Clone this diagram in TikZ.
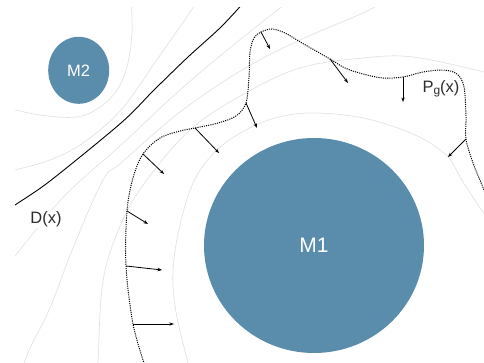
\documentclass[tikz,border=0pt]{standalone}
\usepackage{fontspec}
\setmainfont{Liberation Sans}
\usetikzlibrary{arrows.meta,shapes.geometric}
\definecolor{massblue}{RGB}{90,140,172}
\definecolor{fieldgray}{RGB}{226,226,226}
\definecolor{inkgray}{RGB}{45,45,45}
\begin{document}
\begin{tikzpicture}[x=1pt,y=-1pt,
  fieldline/.style={draw=fieldgray, line width=0.7pt},
  divider/.style={draw=black, line width=0.9pt},
  front/.style={draw=black, line width=1pt, dash pattern=on 1.1pt off 1.1pt},
  push/.style={draw=black, line width=0.8pt, -{Stealth[length=4.6pt,width=3.4pt]}},
  mass/.style={ellipse, fill=massblue, draw=none, text=white, inner sep=0pt},
  tag/.style={text=inkgray, inner sep=1pt}]

\useasboundingbox (0,0) rectangle (484,363);
\clip (0,0) rectangle (484,363);

% equipotential lines
\begin{scope}
  \clip (15,8) rectangle (484,363);
  % closed lines round M2
  \draw[fieldline] plot[smooth, tension=0.6] coordinates
    {(131,-2) (132,33) (127,67) (117,90) (100,107) (77,117) (40,115) (8,108)};
  \draw[fieldline] plot[smooth, tension=0.6] coordinates
    {(199,-2) (193,8) (156,61) (121,110) (83,143) (50,160) (15,170) (4,173)};
  % lines round M1
  \draw[fieldline] plot[smooth, tension=0.6] coordinates
    {(5,268) (15,256) (35,231) (57,204) (80,181) (121,145) (180,90) (242,38) (288,2)};
  \draw[fieldline] plot[smooth, tension=0.6] coordinates
    {(22,370) (30,348) (50,308) (73,248) (103,180) (121,163) (180,112) (242,70) (300,40) (363,13) (382,2)};
  \draw[fieldline] plot[smooth, tension=0.6] coordinates
    {(97,370) (98,363) (103,281) (121,224) (146,181) (190,130) (242,95) (300,68) (363,58) (413,57) (484,72) (496,76)};
  \draw[fieldline] plot[smooth, tension=0.6] coordinates
    {(190,370) (188,363) (176,312) (173,271) (180,225) (194,181) (215,152) (242,132) (275,118) (312,113) (363,118) (413,134) (446,155) (463,182) (484,214) (491,226)};
  % dividing line D(x)
  \draw[divider] plot[smooth, tension=0.5] coordinates
    {(8,210) (15,205) (50,181) (121,123) (154,90) (188,57) (221,27) (246,0)};
\end{scope}

% the two masses
\node[mass, minimum width=220pt, minimum height=215pt,
      font=\fontsize{21}{21}\selectfont] (m1) at (314,245.5) {M1};
\node[mass, minimum width=61pt, minimum height=67pt,
      font=\fontsize{16.5}{16.5}\selectfont] (m2) at (78.7,70.3) {M2};

% points on the front P_g(x)
\coordinate (s1) at (143,154);
\coordinate (s2) at (195,128);
\coordinate (s3) at (246,103);
\coordinate (s4) at (261,32);
\coordinate (s5) at (330,59);
\coordinate (s6) at (403,77);
\coordinate (s7) at (466,139);
\coordinate (s8) at (127,211);
\coordinate (s9) at (126,266);
\coordinate (s10) at (133,324);

% arrow tips
\coordinate (e1) at (164,174);
\coordinate (e2) at (219,153);
\coordinate (e3) at (257,128);
\coordinate (e4) at (270,49);
\coordinate (e5) at (348,83);
\coordinate (e6) at (403,102);
\coordinate (e7) at (448,157);
\coordinate (e8) at (148,224);
\coordinate (e9) at (162,270);
\coordinate (e10) at (174,324);

% the front
\draw[front] plot[smooth, tension=0.55] coordinates
  {(145,366) (s10) (s9) (s8) (133,178) (s1) (160,138) (180,131) (s2) (218,123)
   (236,116) (s3) (249,77) (250,52) (254,38) (s4) (272,29) (285,33) (302,43)
   (s5) (345,68) (363,74) (383,78) (s6) (423,72) (443,70) (457,74) (464,87)
   (466,117) (s7) (473,163) (482,185) (488,200)};

% push arrows
\foreach \i in {1,...,10} \draw[push] (s\i) -- (e\i);

% labels
\node[tag, fill=white, font=\fontsize{16.5}{16.5}\selectfont] (dlabel) at (46,219) {D(x)};
\node[tag, font=\fontsize{16.5}{16.5}\selectfont] (plabel) at (441,89)
  {P\raisebox{-2.5pt}{\fontsize{12}{12}\selectfont g}(x)};

\end{tikzpicture}
\end{document}
